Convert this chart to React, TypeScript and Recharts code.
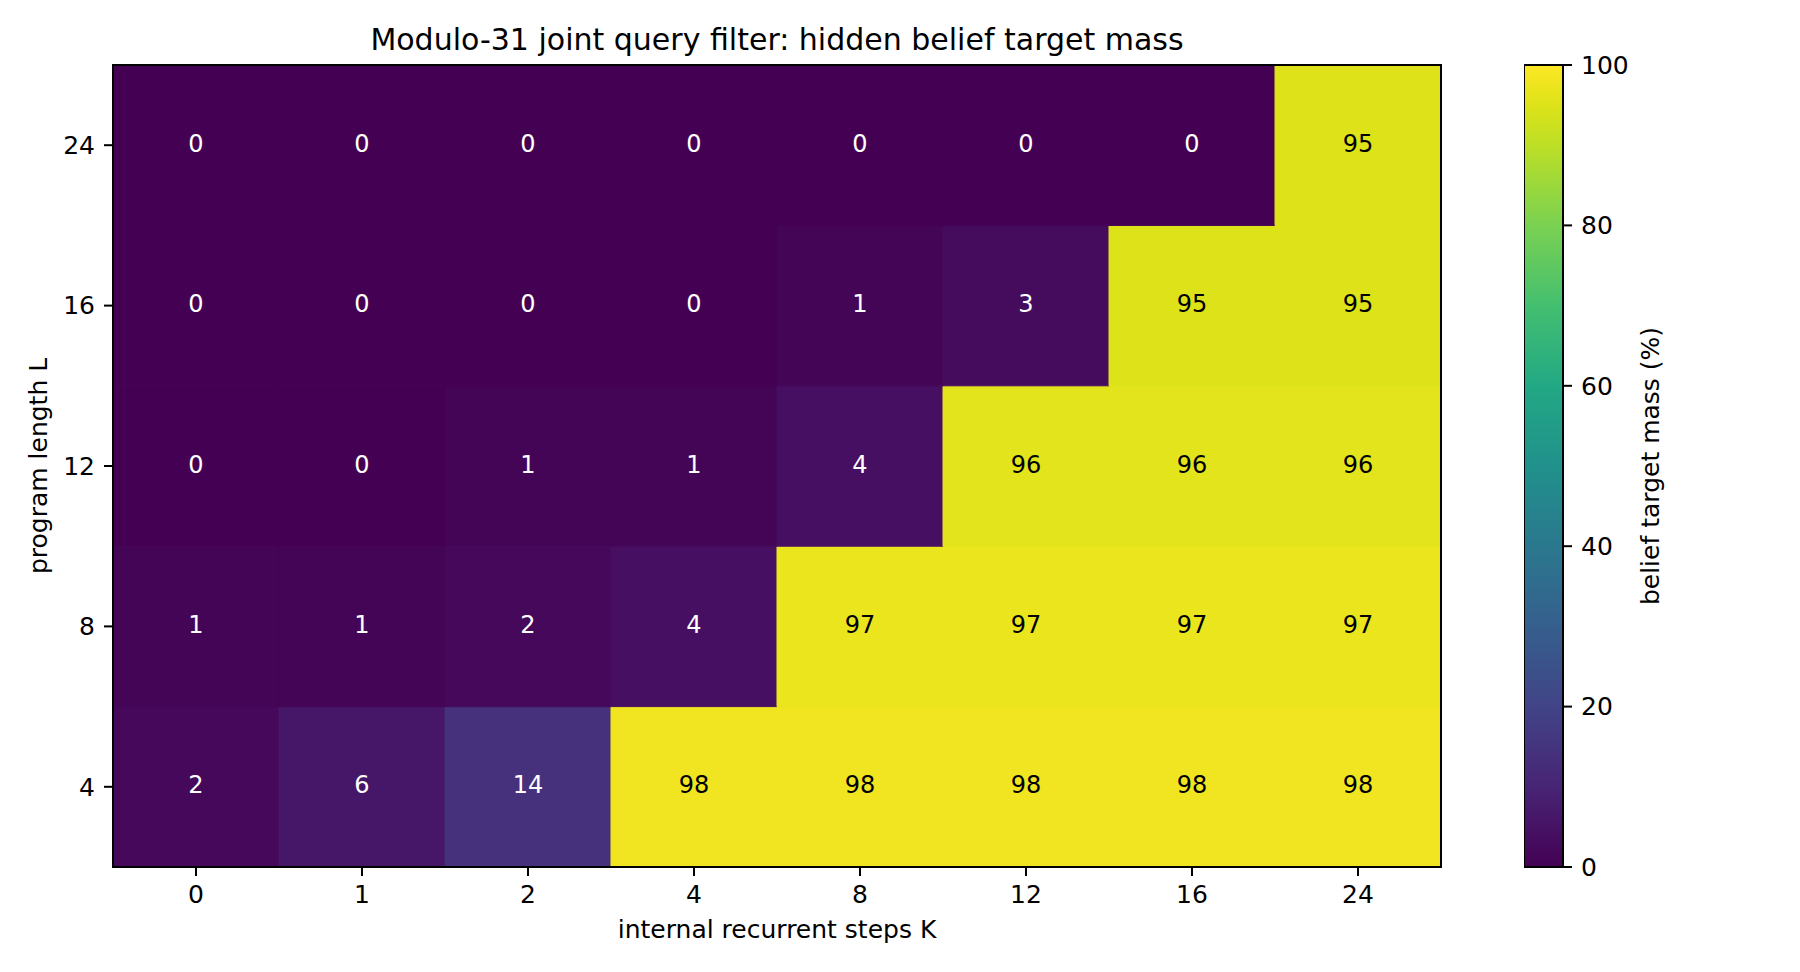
import React from 'react';
import { ScatterChart, Scatter, XAxis, YAxis, ReferenceArea, BarChart, Bar } from 'recharts';

// axis categories
const stepsK = ['0', '1', '2', '4', '8', '12', '16', '24'];
const lengthsL = ['4', '8', '12', '16', '24'];

// belief target mass (%) per program length, columns follow stepsK
const massL4 = [2, 6, 14, 98, 98, 98, 98, 98];
const massL8 = [1, 1, 2, 4, 97, 97, 97, 97];
const massL12 = [0, 0, 1, 1, 4, 96, 96, 96];
const massL16 = [0, 0, 0, 0, 1, 3, 95, 95];
const massL24 = [0, 0, 0, 0, 0, 0, 0, 95];

const colorbarTicks = [0, 20, 40, 60, 80, 100];

const FONT = '"DejaVu Sans", sans-serif';

// viridis anchor colours
const viridis: [number, string][] = [
  [0.0, '#440154'],
  [0.1, '#482475'],
  [0.2, '#414487'],
  [0.3, '#355f8d'],
  [0.4, '#2a788e'],
  [0.5, '#21918c'],
  [0.6, '#22a884'],
  [0.7, '#44bf70'],
  [0.8, '#7ad151'],
  [0.9, '#bddf26'],
  [0.95, '#dde318'],
  [1.0, '#fde725'],
];

function hexToRgb(h: string) {
  return [1, 3, 5].map((i) => parseInt(h.slice(i, i + 2), 16));
}

function viridisColor(v: number) {
  const t = Math.max(0, Math.min(1, v / 100));
  for (let i = 1; i < viridis.length; i++) {
    const [t1, c1] = viridis[i];
    const [t0, c0] = viridis[i - 1];
    if (t <= t1) {
      const f = (t - t0) / (t1 - t0);
      const a = hexToRgb(c0);
      const b = hexToRgb(c1);
      const rgb = a.map((x, k) => Math.round(x + (b[k] - x) * f));
      return `rgb(${rgb.join(',')})`;
    }
  }
  return viridis[viridis.length - 1][1];
}

const rows = [massL4, massL8, massL12, massL16, massL24];
const cells = rows.flatMap((row, y) => row.map((v, x) => ({ x, y, v })));

const tickStyle = { fill: '#000', fontSize: 25, fontFamily: FONT };
const tickLine = { stroke: '#000', strokeWidth: 2 };

function CellText(props: any) {
  const { cx, cy, payload } = props;
  if (cx == null || cy == null) return null;
  return (
    <text
      x={cx}
      y={cy}
      dy={6.5}
      textAnchor="middle"
      fontSize={24}
      fontFamily={FONT}
      fill={payload.v < 50 ? '#fff' : '#000'}
    >
      {payload.v}
    </text>
  );
}

export default function App() {
  return (
    <div style={{ position: 'absolute', left: 0, top: 0, width: 1800, height: 972, background: '#fff' }}>
      <div
        style={{
          position: 'absolute',
          left: 0,
          top: 24.6,
          width: 1554,
          textAlign: 'center',
          fontFamily: FONT,
          fontSize: 30,
          lineHeight: '30px',
          color: '#000',
          whiteSpace: 'nowrap',
        }}
      >
        Modulo-31 joint query filter: hidden belief target mass
      </div>

      <div style={{ position: 'absolute', left: 0, top: 0 }}>
        <ScatterChart width={1800} height={972} margin={{ top: 65, right: 359, bottom: 0, left: 0 }}>
          <XAxis
            type="number"
            dataKey="x"
            domain={[-0.5, 7.5]}
            ticks={[0, 1, 2, 3, 4, 5, 6, 7]}
            tickFormatter={(i: number) => stepsK[i]}
            allowDataOverflow
            height={105}
            tick={tickStyle}
            tickLine={tickLine}
            axisLine={false}
            tickSize={9}
            tickMargin={9}
            interval={0}
            label={{
              value: 'internal recurrent steps K',
              position: 'insideBottom',
              offset: 34,
              fill: '#000',
              fontSize: 25,
              fontFamily: FONT,
            }}
          />
          <YAxis
            type="number"
            dataKey="y"
            domain={[-0.5, 4.5]}
            ticks={[0, 1, 2, 3, 4]}
            tickFormatter={(i: number) => lengthsL[i]}
            allowDataOverflow
            width={113}
            tick={tickStyle}
            tickLine={tickLine}
            axisLine={false}
            tickSize={9}
            tickMargin={9}
            interval={0}
            label={{
              value: 'program length L',
              angle: -90,
              position: 'insideLeft',
              offset: 38,
              fill: '#000',
              fontSize: 25,
              fontFamily: FONT,
              style: { textAnchor: 'middle' },
            }}
          />
          {cells.map((c) => (
            <ReferenceArea
              key={`${c.x}-${c.y}`}
              x1={c.x - 0.5}
              x2={c.x + 0.5}
              y1={c.y - 0.5}
              y2={c.y + 0.5}
              fill={viridisColor(c.v)}
              fillOpacity={1}
              stroke={viridisColor(c.v)}
              strokeWidth={1}
              ifOverflow="visible"
            />
          ))}
          <ReferenceArea
            x1={-0.5}
            x2={7.5}
            y1={-0.5}
            y2={4.5}
            fill="none"
            stroke="#000"
            strokeWidth={2}
            ifOverflow="visible"
          />
          <Scatter data={cells} shape={CellText} isAnimationActive={false} />
        </ScatterChart>
      </div>

      <div style={{ position: 'absolute', left: 1524, top: 0 }}>
        <BarChart
          width={276}
          height={972}
          data={[{ name: 'mass', v: 100 }]}
          margin={{ top: 65, right: 0, bottom: 105, left: 0 }}
          barCategoryGap={0}
        >
          <defs>
            <linearGradient id="viridisGrad" x1="0" y1="1" x2="0" y2="0">
              {viridis.map(([t, c]) => (
                <stop key={t} offset={`${t * 100}%`} stopColor={c} />
              ))}
            </linearGradient>
          </defs>
          <XAxis dataKey="name" hide />
          <YAxis
            orientation="right"
            type="number"
            domain={[0, 100]}
            ticks={colorbarTicks}
            width={237}
            tick={{ ...tickStyle, textAnchor: 'start' }}
            tickLine={tickLine}
            axisLine={false}
            tickSize={9}
            tickMargin={9}
            interval={0}
            label={{
              value: 'belief target mass (%)',
              angle: -90,
              position: 'insideLeft',
              offset: 87,
              fill: '#000',
              fontSize: 25,
              fontFamily: FONT,
              style: { textAnchor: 'middle' },
            }}
          />
          <Bar dataKey="v" fill="url(#viridisGrad)" stroke="#000" strokeWidth={2} isAnimationActive={false} />
        </BarChart>
      </div>
    </div>
  );
}
